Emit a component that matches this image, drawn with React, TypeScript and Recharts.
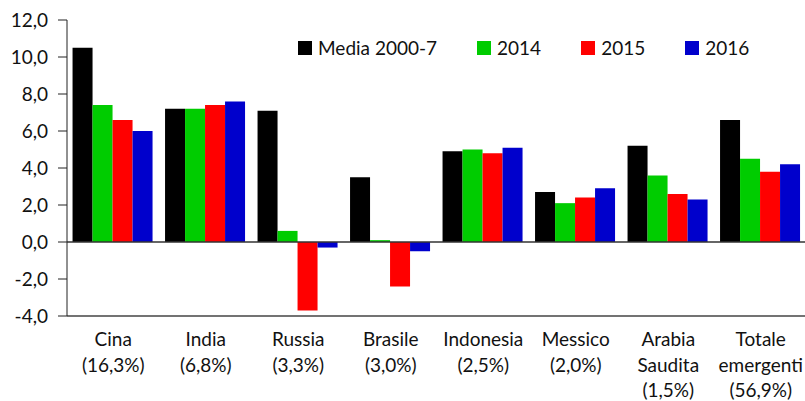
import React from "react";
import { BarChart, Bar, XAxis, YAxis, ReferenceLine, Legend } from "recharts";

const categories = ["Cina", "India", "Russia", "Brasile", "Indonesia", "Messico", "Arabia Saudita", "Totale emergenti"];
const categoryLines = [
  ["Cina", "(16,3%)"],
  ["India", "(6,8%)"],
  ["Russia", "(3,3%)"],
  ["Brasile", "(3,0%)"],
  ["Indonesia", "(2,5%)"],
  ["Messico", "(2,0%)"],
  ["Arabia", "Saudita", "(1,5%)"],
  ["Totale", "emergenti", "(56,9%)"],
];
const media2000_7 = [10.5, 7.2, 7.1, 3.5, 4.9, 2.7, 5.2, 6.6];
const y2014 = [7.4, 7.2, 0.6, 0.1, 5.0, 2.1, 3.6, 4.5];
const y2015 = [6.6, 7.4, -3.7, -2.4, 4.8, 2.4, 2.6, 3.8];
const y2016 = [6.0, 7.6, -0.3, -0.5, 5.1, 2.9, 2.3, 4.2];
const yTicks = [-4, -2, 0, 2, 4, 6, 8, 10, 12];

const seriesNames = ["Media 2000-7", "2014", "2015", "2016"];
const seriesKeys = ["media", "y2014", "y2015", "y2016"];
const seriesColors = ["#000000", "#00cc00", "#ff0000", "#0000cc"];

const data = categories.map((c, i) => ({
  name: c,
  idx: i,
  media: media2000_7[i],
  y2014: y2014[i],
  y2015: y2015[i],
  y2016: y2016[i],
}));

const FONT = "Lato, 'Open Sans', sans-serif";
const TEXT = "#111";

const CatTick = (props: any) => {
  const { x, y, payload } = props;
  const lines = categoryLines[payload.index] || [payload.value];
  return (
    <text x={x} y={y} textAnchor="middle" fontFamily={FONT} fontSize={19} fill={TEXT}>
      {lines.map((l: string, i: number) => (
        <tspan key={i} x={x} y={y + 22 + i * 25.5}>
          {l}
        </tspan>
      ))}
    </text>
  );
};

const LegendContent = () => (
  <div style={{ display: "flex", alignItems: "center", fontFamily: FONT, fontSize: 19, color: TEXT, whiteSpace: "nowrap" }}>
    {seriesNames.map((n, i) => (
      <div key={n} style={{ display: "flex", alignItems: "center", marginRight: 40 }}>
        <span style={{ display: "inline-block", width: 14, height: 14, background: seriesColors[i], marginRight: 6 }} />
        <span>{n}</span>
      </div>
    ))}
  </div>
);

export default function App() {
  return (
    <div style={{ position: "absolute", left: 0, top: 0, width: 805, height: 401, overflow: "hidden", background: "#fff" }}>
      <BarChart
        width={815}
        height={401}
        data={data}
        margin={{ top: 20, right: 8, bottom: 0, left: 0 }}
        barCategoryGap="6%"
        barGap={0}
      >
        <XAxis
          dataKey="name"
          height={85}
          tickLine={false}
          axisLine={{ stroke: "#444", strokeWidth: 1.5 }}
          tick={<CatTick />}
          interval={0}
        />
        <YAxis
          width={67}
          domain={[-4, 12]}
          ticks={yTicks}
          interval={0}
          tickSize={9}
          tickMargin={10}
          tickLine={{ stroke: "#222" }}
          axisLine={{ stroke: "#222" }}
          tickFormatter={(v: number) => v.toFixed(1).replace(".", ",")}
          tick={{ fontFamily: FONT, fontSize: 19, fill: TEXT }}
        />
        <Legend
          content={<LegendContent />}
          wrapperStyle={{ position: "absolute", top: 36, left: 298, width: 0, height: 0, overflow: "visible" }}
        />
        {seriesKeys.map((k, i) => (
          <Bar key={k} dataKey={k} name={seriesNames[i]} fill={seriesColors[i]} isAnimationActive={false} />
        ))}
        <ReferenceLine y={0} stroke="#333" strokeWidth={1.5} />
      </BarChart>
    </div>
  );
}
